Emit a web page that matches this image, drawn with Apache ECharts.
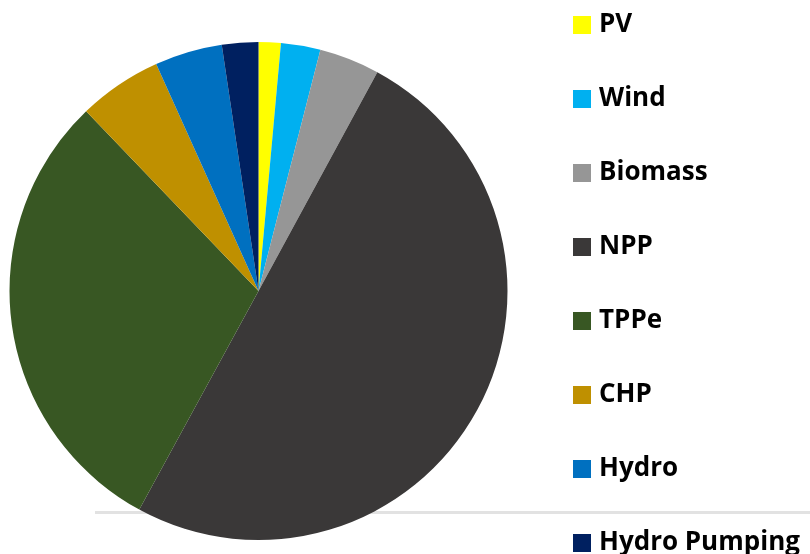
<!DOCTYPE html>
<html>
<head>
<meta charset="utf-8">
<script src="https://cdn.jsdelivr.net/npm/echarts@6/dist/echarts.min.js"></script>
<style>
  html, body { margin: 0; padding: 0; background: #fff; }
  #main { width: 810px; height: 554px; }
</style>
</head>
<body>
<div id="main"></div>
<script>
var names = ['PV', 'Wind', 'Biomass', 'NPP', 'TPPe', 'CHP', 'Hydro', 'Hydro Pumping']
var shares = [1.44, 2.56, 3.92, 50.03, 29.89, 5.43, 4.38, 2.36]
var colors = ['#ffff00', '#00b0f0', '#969696', '#3a3838', '#385723', '#bf9000', '#0070c0', '#002060']

var chart = echarts.init(document.getElementById('main'))
var pieData = names.map(function (n, i) {
  return { name: n, value: shares[i] }
})

var option = {
  color: colors,
  animation: false,
  graphic: [
    {
      type: 'line',
      z: 0,
      shape: { x1: 95, y1: 512.5, x2: 810, y2: 512.5 },
      style: { stroke: '#e2e2e2', lineWidth: 3 }
    }
  ],
  legend: {
    orient: 'vertical',
    left: 573,
    top: 12,
    height: 560,
    padding: 0,
    itemWidth: 18,
    itemHeight: 18,
    itemGap: 48,
    icon: 'rect',
    textStyle: {
      fontFamily: 'Open Sans',
      fontWeight: 'bold',
      fontSize: 26,
      color: '#000',
      padding: [0, 0, 0, 3]
    },
    data: names
  },
  series: [
    {
      type: 'pie',
      z: 2,
      center: [258.5, 291],
      radius: 249,
      startAngle: 90,
      clockwise: true,
      label: { show: false },
      labelLine: { show: false },
      itemStyle: { borderWidth: 0 },
      emphasis: { disabled: true },
      data: pieData
    }
  ]
}

chart.setOption(option)
</script>
</body>
</html>
